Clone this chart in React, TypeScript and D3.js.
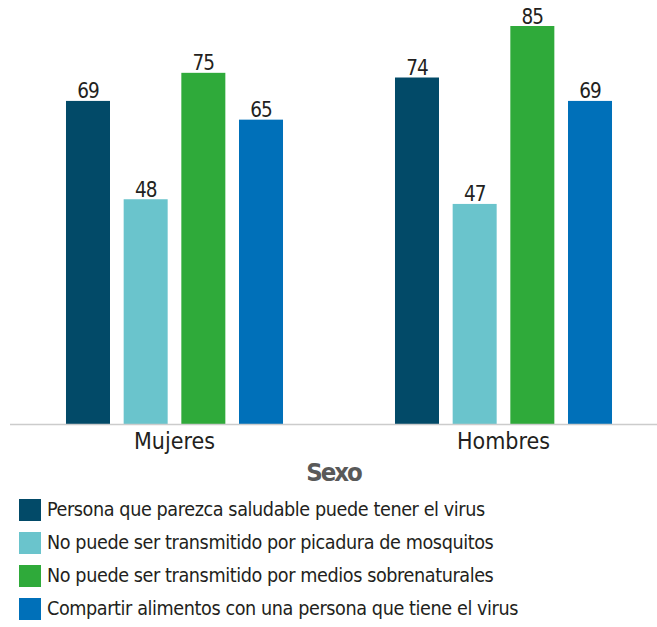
import React, { useEffect, useRef } from "react";
import * as d3 from "d3";

// Data
const groups = ["Mujeres", "Hombres"];
const seriesNames = [
  "Persona que parezca saludable puede tener el virus",
  "No puede ser transmitido por picadura de mosquitos",
  "No puede ser transmitido por medios sobrenaturales",
  "Compartir alimentos con una persona que tiene el virus",
];
const mujeresValues = [69, 48, 75, 65];
const hombresValues = [74, 47, 85, 69];
const colors = ["#024a68", "#6ac4cc", "#2faa3a", "#0070b9"];

const FONT = "'Liberation Sans Narrow', 'DejaVu Sans Condensed', Roboto, sans-serif";

const App: React.FC = () => {
  const ref = useRef<SVGSVGElement>(null);

  useEffect(() => {
    const width = 657;
    const baseline = 424;

    const svg = d3.select(ref.current);
    svg.selectAll("*").remove();

    const values: { [k: string]: number[] } = {
      Mujeres: mujeresValues,
      Hombres: hombresValues,
    };

    // Scales
    const x0 = d3
      .scaleBand()
      .domain(groups)
      .range([10, 668])
      .paddingInner(0.299)
      .paddingOuter(0.1495);

    const x1 = d3
      .scaleBand()
      .domain(seriesNames)
      .range([0, x0.bandwidth()])
      .paddingInner(0.237)
      .paddingOuter(0.118);

    const y = d3.scaleLinear().domain([0, 85]).range([baseline, 26]);

    // Bars
    const g = svg
      .selectAll(".group")
      .data(groups)
      .enter()
      .append("g")
      .attr("class", "group")
      .attr("transform", (d) => `translate(${x0(d)},0)`);

    g.selectAll("rect")
      .data((d) => values[d].map((v, i) => ({ name: seriesNames[i], value: v, i })))
      .enter()
      .append("rect")
      .attr("x", (d) => x1(d.name)!)
      .attr("y", (d) => y(d.value))
      .attr("width", x1.bandwidth())
      .attr("height", (d) => baseline - y(d.value))
      .attr("fill", (d) => colors[d.i]);

    // Values on top of bars
    g.selectAll(".bar-value")
      .data((d) => values[d].map((v, i) => ({ name: seriesNames[i], value: v })))
      .enter()
      .append("text")
      .attr("class", "bar-value")
      .attr("x", (d) => x1(d.name)! + x1.bandwidth() / 2)
      .attr("y", (d) => y(d.value) - 2.5)
      .attr("text-anchor", "middle")
      .style("font-family", FONT)
      .style("font-size", "20.5px")
      .style("letter-spacing", "-1px")
      .style("fill", "#231f20")
      .text((d) => d.value);

    // Axis line
    svg
      .append("line")
      .attr("x1", 10)
      .attr("x2", width)
      .attr("y1", baseline + 0.5)
      .attr("y2", baseline + 0.5)
      .attr("stroke", "#cccccc")
      .attr("stroke-width", 1.5);

    // Category labels
    svg
      .selectAll(".cat")
      .data(groups)
      .enter()
      .append("text")
      .attr("class", "cat")
      .attr("x", (d) => x0(d)! + x0.bandwidth() / 2)
      .attr("y", 449)
      .attr("text-anchor", "middle")
      .style("font-family", FONT)
      .style("font-size", "23px")
      .style("fill", "#231f20")
      .text((d) => d);

    // Axis title
    svg
      .append("text")
      .attr("x", (10 + width) / 2)
      .attr("y", 480.5)
      .attr("text-anchor", "middle")
      .style("font-family", FONT)
      .style("font-size", "25.5px")
      .style("letter-spacing", "-2px")
      .style("font-weight", "bold")
      .style("fill", "#595959")
      .text("Sexo");

    // Legend
    const legend = svg
      .selectAll(".legend")
      .data(seriesNames)
      .enter()
      .append("g")
      .attr("class", "legend")
      .attr("transform", (d, i) => `translate(19,${499 + i * 33})`);

    legend
      .append("rect")
      .attr("width", 22)
      .attr("height", 22)
      .attr("fill", (d, i) => colors[i]);

    legend
      .append("text")
      .attr("x", 28)
      .attr("y", 17)
      .style("font-family", FONT)
      .style("font-size", "19.6px")
      .style("letter-spacing", "-0.4px")
      .style("fill", "#231f20")
      .text((d) => d);
  }, []);

  return (
    <svg
      ref={ref}
      width={657}
      height={627}
      style={{ position: "absolute", left: 0, top: 0, background: "#fff" }}
    />
  );
};

export default App;
